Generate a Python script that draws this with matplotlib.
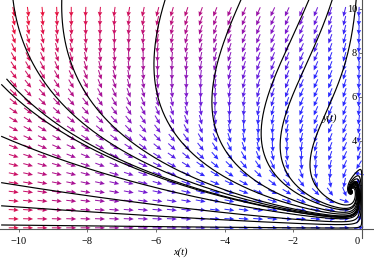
import numpy as np
import matplotlib
matplotlib.use('Agg')
import matplotlib.pyplot as plt
from matplotlib.colors import LinearSegmentedColormap, LogNorm
from matplotlib.transforms import ScaledTranslation

# system:  x' = -x (a - x - y),   y' = y (b x + c (d - y))
a, b, c, d = 1.4, 1.2, 0.3, 2.9

# starting points of the solution curves
x0_top = [-10.17, -8.75, -5.74, -3.53, -1.55, -0.87, -0.17]
y_top = 10.4
x0_left = [-10.5, -10.35, -10.5, -10.5, -10.5, -10.5]
y0_left = [6.55, 6.8, 4.2, 2.1, 1.05, 0.18]

x_ticks = [-10, -8, -6, -4, -2, 0]
y_ticks = [2, 4, 6, 8, 10]

plt.rcParams['font.family'] = ['Liberation Serif', 'DejaVu Serif']


def field(x, y):
    return -x * (a - x - y), y * (b * x + c * (d - y))


def solve(xs, ys, dt=0.002, steps=20000):
    x = np.array(xs, dtype=float)
    y = np.array(ys, dtype=float)
    px, py = [x.copy()], [y.copy()]
    for _ in range(steps):
        k1 = field(x, y)
        k2 = field(x + dt / 2 * k1[0], y + dt / 2 * k1[1])
        k3 = field(x + dt / 2 * k2[0], y + dt / 2 * k2[1])
        k4 = field(x + dt * k3[0], y + dt * k3[1])
        x = x + dt / 6 * (k1[0] + 2 * k2[0] + 2 * k3[0] + k4[0])
        y = y + dt / 6 * (k1[1] + 2 * k2[1] + 2 * k3[1] + k4[1])
        px.append(x.copy())
        py.append(y.copy())
    return np.array(px), np.array(py)


fig = plt.figure(figsize=(3.74, 2.58), dpi=100)
ax = fig.add_axes([0, 0, 1, 1])
ax.set_xlim(-10.55, 0.35)
ax.set_ylim(-1.32, 10.4)

# direction field, arrows of equal screen length
gx, gy = np.meshgrid(np.linspace(-10.15, -0.09, 25), np.linspace(0.05, 9.86, 25))
u, v = field(gx, gy)
mag = np.hypot(u, v)
su, sv = u * 34.3, v * 22.0
n = np.hypot(su, sv)
cmap = LinearSegmentedColormap.from_list(
    'rb', [(0, '#2a2aff'), (0.4, '#7a1ad0'), (0.7, '#b0108a'), (1, '#e8103c')])
ax.quiver(gx, gy, su / n, sv / n, mag, cmap=cmap, norm=LogNorm(20, 130, clip=True),
          angles='uv', pivot='middle', scale_units='inches', scale=10,
          units='dots', width=1.0, headwidth=4.5, headlength=5, headaxislength=4.5, zorder=2)

# solution curves
sx = x0_top + x0_left
sy = [y_top] * len(x0_top) + y0_left
px, py = solve(sx, sy)
for i in range(len(sx)):
    ax.plot(px[:, i], py[:, i], color='black', lw=0.85, zorder=3)

for s in ['top', 'right']:
    ax.spines[s].set_visible(False)
ax.spines['left'].set_position(('data', 0))
ax.spines['bottom'].set_position(('data', 0))
ax.spines['left'].set_bounds(-0.4, 10.4)
for s in ['left', 'bottom']:
    ax.spines[s].set_color('#555555')
    ax.spines[s].set_linewidth(0.8)

ax.set_xticks(x_ticks)
ax.set_yticks(y_ticks)
ax.tick_params(direction='out', length=2.5, width=0.6, colors='#555555',
               labelcolor='black', labelsize=7.5)
ax.tick_params(axis='x', pad=3)
ax.tick_params(axis='y', pad=1)
lab0 = ax.get_xticklabels()[-1]
lab0.set_transform(lab0.get_transform() + ScaledTranslation(-5 / 100, 0, fig.dpi_scale_trans))

ax.text(-5.3, -1.05, 'x(t)', fontsize=7.5, style='italic', ha='center', va='center')
ax.text(-0.93, 5.05, 'y(t)', fontsize=7.5, style='italic', ha='center', va='center')

fig.savefig('out.png', dpi=100)
